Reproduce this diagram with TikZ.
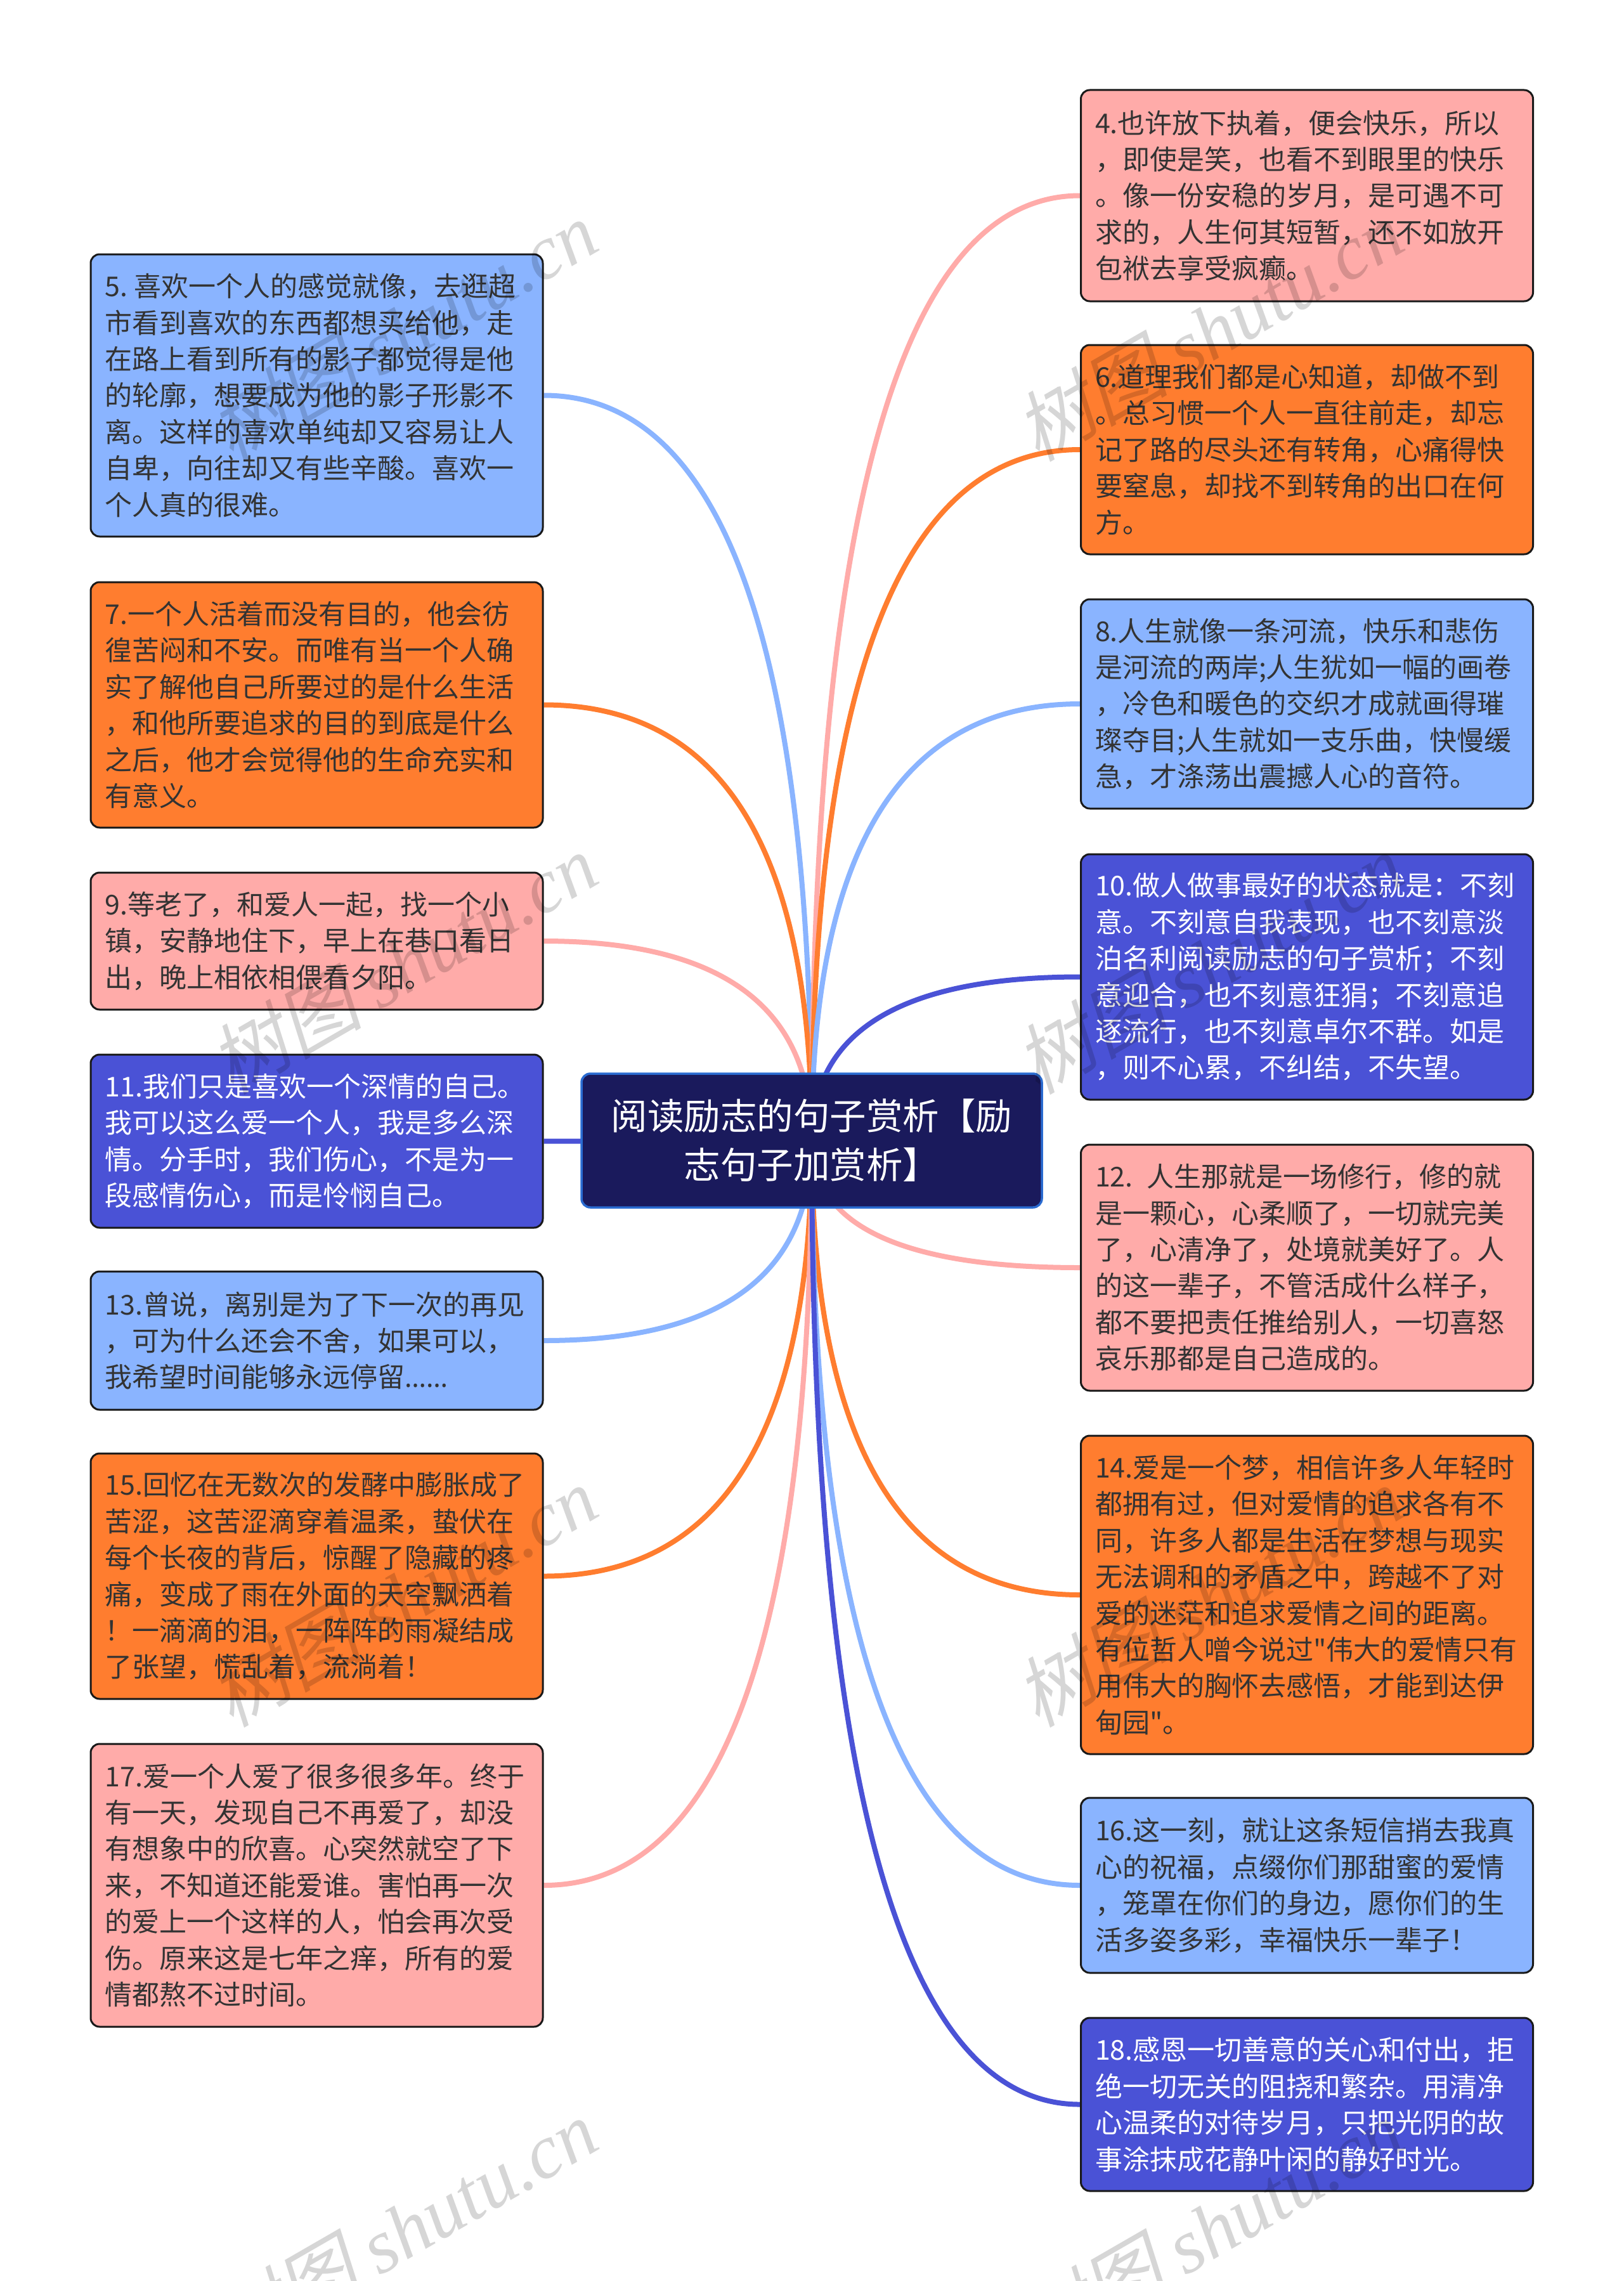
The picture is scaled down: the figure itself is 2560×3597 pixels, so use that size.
\documentclass[tikz,border=0pt]{standalone}
\usepackage{fontspec}
\setmainfont[Ligatures=TeXOff]{Noto Sans CJK SC}
\newfontfamily\wmcjk[FakeSlant=0.22]{Noto Sans CJK SC}
\newfontfamily\wmlat{Liberation Serif}
\newfontfamily\ellfont{Noto Sans}
\usetikzlibrary{backgrounds,calc}
\definecolor{cblue}{HTML}{8AB4FF}
\definecolor{corange}{HTML}{FF7D2F}
\definecolor{cpink}{HTML}{FFABA9}
\definecolor{cindigo}{HTML}{4A52D6}
\definecolor{cnavy}{HTML}{1A1A5C}
\definecolor{cedge}{HTML}{2A6BD0}
\definecolor{inkdark}{HTML}{333333}
\tikzset{
  x=1pt,y=-1pt,
  leaf/.style={draw=black!90,line width=3pt,rounded corners=14pt,minimum width=713pt,inner sep=0pt,
    text width=668pt,align=left,font=\fontsize{43}{57.4}\selectfont,text=inkdark},
  lblue/.style={leaf,fill=cblue},
  lorange/.style={leaf,fill=corange},
  lpink/.style={leaf,fill=cpink},
  lindigo/.style={leaf,fill=cindigo,text=white},
  rootbox/.style={draw=cedge,line width=3.5pt,fill=cnavy,rounded corners=14pt,minimum width=726pt,minimum height=211pt,
    inner sep=0pt,text width=660pt,align=center,font=\fontsize{57.5}{77}\selectfont,text=white},
  wm/.style={text=black,text opacity=0.16,rotate=30,inner sep=0pt,font=\fontsize{121}{121}\selectfont},
  link/.style={line width=8pt}
}
\newcommand{\conn}[3]{\draw[link,#3] (root.center) .. controls ($(root.center)!0.667!(root.center|-#1.#2)$) and ($(#1.#2)!0.667!(root.center|-#1.#2)$) .. (#1.#2);}
\newcommand{\wmtext}{{\wmcjk 树图} {\wmlat\itshape shutu.cn}}
\begin{document}
\begin{tikzpicture}
\path[use as bounding box] (0,0) rectangle (2560,3597);
\clip (0,0) rectangle (2560,3597);
\node[rootbox] (root) at (1280,1798.5) {阅读励志的句子赏析【励\\志句子加赏析】};
% left column
\node[lblue,minimum height=445pt] (n5) at (499.5,623.5) {5.\hspace{10pt}喜欢一个人的感觉就像，去逛超\\市看到喜欢的东西都想买给他，走\\在路上看到所有的影子都觉得是他\\的轮廓，想要成为他的影子形影不\\离。这样的喜欢单纯却又容易让人\\自卑，向往却又有些辛酸。喜欢一\\个人真的很难。};
\node[lorange,minimum height=387pt] (n7) at (499.5,1111.5) {7.一个人活着而没有目的，他会彷\\徨苦闷和不安。而唯有当一个人确\\实了解他自己所要过的是什么生活\\，和他所要追求的目的到底是什么\\之后，他才会觉得他的生命充实和\\有意义。};
\node[lpink,minimum height=216pt] (n9) at (499.5,1484) {9.等老了，和爱人一起，找一个小\\镇，安静地住下，早上在巷口看日\\出，晚上相依相偎看夕阳。};
\node[lindigo,minimum height=273pt] (n11) at (499.5,1799.5) {11.我们只是喜欢一个深情的自己。\\我可以这么爱一个人，我是多么深\\情。分手时，我们伤心，不是为一\\段感情伤心，而是怜悯自己。};
\node[lblue,minimum height=218pt] (n13) at (499.5,2114) {13.曾说，离别是为了下一次的再见\\，可为什么还会不舍，如果可以，\\我希望时间能够永远停留{\ellfont ……}};
\node[lorange,minimum height=387pt] (n15) at (499.5,2485.5) {15.回忆在无数次的发酵中膨胀成了\\苦涩，这苦涩滴穿着温柔，蛰伏在\\每个长夜的背后，惊醒了隐藏的疼\\痛，变成了雨在外面的天空飘洒着\\！一滴滴的泪，一阵阵的雨凝结成\\了张望，慌乱着，流淌着！};
\node[lpink,minimum height=446pt] (n17) at (499.5,2973) {17.爱一个人爱了很多很多年。终于\\有一天，发现自己不再爱了，却没\\有想象中的欣喜。心突然就空了下\\来，不知道还能爱谁。害怕再一次\\的爱上一个这样的人，怕会再次受\\伤。原来这是七年之痒，所有的爱\\情都熬不过时间。};
% right column
\node[lpink,minimum height=333pt] (n4) at (2061,308.5) {4.也许放下执着，便会快乐，所以\\，即使是笑，也看不到眼里的快乐\\。像一份安稳的岁月，是可遇不可\\求的，人生何其短暂，还不如放开\\包袱去享受疯癫。};
\node[lorange,minimum height=330pt] (n6) at (2061,709) {6.道理我们都是心知道，却做不到\\。总习惯一个人一直往前走，却忘\\记了路的尽头还有转角，心痛得快\\要窒息，却找不到转角的出口在何\\方。};
\node[lblue,minimum height=330pt] (n8) at (2061,1110) {8.人生就像一条河流，快乐和悲伤\\是河流的两岸;人生犹如一幅的画卷\\，冷色和暖色的交织才成就画得璀\\璨夺目;人生就如一支乐曲，快慢缓\\急，才涤荡出震撼人心的音符。};
\node[lindigo,minimum height=387pt] (n10) at (2061,1540.5) {10.做人做事最好的状态就是：不刻\\意。不刻意自我表现，也不刻意淡\\泊名利阅读励志的句子赏析；不刻\\意迎合，也不刻意狂狷；不刻意追\\逐流行，也不刻意卓尔不群。如是\\，则不心累，不纠结，不失望。};
\node[lpink,minimum height=388pt] (n12) at (2061,1999) {12. 人生那就是一场修行，修的就\\是一颗心，心柔顺了，一切就完美\\了，心清净了，处境就美好了。人\\的这一辈子，不管活成什么样子，\\都不要把责任推给别人，一切喜怒\\哀乐那都是自己造成的。};
\node[lorange,minimum height=502pt] (n14) at (2061,2515) {14.爱是一个梦，相信许多人年轻时\\都拥有过，但对爱情的追求各有不\\同，许多人都是生活在梦想与现实\\无法调和的矛盾之中，跨越不了对\\爱的迷茫和追求爱情之间的距离。\\有位哲人噌今说过"伟大的爱情只有\\用伟大的胸怀去感悟，才能到达伊\\甸园"。};
\node[lblue,minimum height=276pt] (n16) at (2061,2973) {16.这一刻，就让这条短信捎去我真\\心的祝福，点缀你们那甜蜜的爱情\\，笼罩在你们的身边，愿你们的生\\活多姿多彩，幸福快乐一辈子！};
\node[lindigo,minimum height=273pt] (n18) at (2061,3318.5) {18.感恩一切善意的关心和付出，拒\\绝一切无关的阻挠和繁杂。用清净\\心温柔的对待岁月，只把光阴的故\\事涂抹成花静叶闲的静好时光。};
\begin{scope}[on background layer]
\conn{n5}{east}{cblue}
\conn{n7}{east}{corange}
\conn{n9}{east}{cpink}
\conn{n11}{east}{cindigo}
\conn{n13}{east}{cblue}
\conn{n15}{east}{corange}
\conn{n17}{east}{cpink}
\conn{n4}{west}{cpink}
\conn{n6}{west}{corange}
\conn{n8}{west}{cblue}
\conn{n10}{west}{cindigo}
\conn{n12}{west}{cpink}
\conn{n14}{west}{corange}
\conn{n16}{west}{cblue}
\conn{n18}{west}{cindigo}
\end{scope}
% watermarks
\node[wm] (w1) at (635,521) {\wmtext};
\node[wm] (w2) at (635,1519) {\wmtext};
\node[wm] (w3) at (635,2517) {\wmtext};
\node[wm] (w4) at (635,3515) {\wmtext};
\node[wm] (w5) at (1906,521) {\wmtext};
\node[wm] (w6) at (1906,1519) {\wmtext};
\node[wm] (w7) at (1906,2517) {\wmtext};
\node[wm] (w8) at (1906,3515) {\wmtext};
\end{tikzpicture}
\end{document}
